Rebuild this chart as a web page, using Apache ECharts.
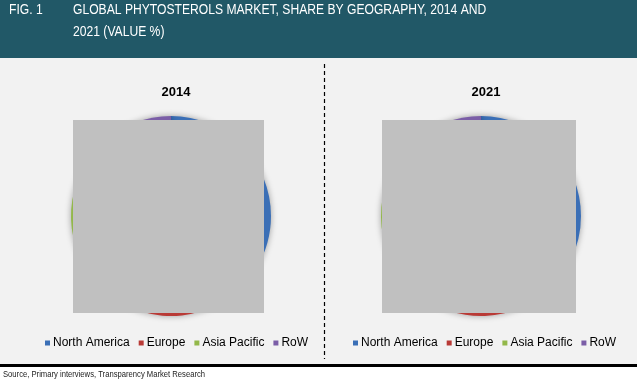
<!DOCTYPE html>
<html>
<head>
<meta charset="utf-8">
<script src="https://cdn.jsdelivr.net/npm/echarts@6/dist/echarts.min.js"></script>
<style>html,body{margin:0;padding:0;background:#fff;}#c{width:637px;height:390px;}</style>
</head>
<body>
<div id="c"></div>
<script>
const categories = ['North America', 'Europe', 'Asia Pacific', 'RoW'];
const years = ['2014', '2021'];
const values2014 = [42, 28, 24, 6];
const values2021 = [40, 27, 27, 6];
const colors = ['#3B6FB6', '#B93A36', '#93B84A', '#7B5EA7'];

const sans = "'Liberation Sans', Arial, sans-serif";

function pieSeries(vals, cx) {
  return {
    type: 'pie',
    center: [cx, 216],
    radius: 100,
    startAngle: 90,
    clockwise: true,
    silent: true,
    label: { show: false },
    labelLine: { show: false },
    itemStyle: { shadowBlur: 6, shadowColor: 'rgba(0,0,0,0.35)', borderWidth: 0 },
    data: categories.map((n, i) => ({ name: n, value: vals[i] }))
  };
}

const chart = echarts.init(document.getElementById('c'), null, { renderer: 'canvas' });
const legendBase = {
  data: categories,
  orient: 'horizontal',
  icon: 'rect',
  itemWidth: 5,
  itemHeight: 5,
  itemGap: 9,
  top: 332,
  selectedMode: false,
  textStyle: { fontFamily: sans, fontSize: 12, color: '#000', padding: [0, 0, 0, -2] }
};
chart.setOption({
  animation: false,
  backgroundColor: '#fff',
  color: colors,
  title: [
    { text: years[0], left: 171, top: 81, textAlign: 'center', textStyle: { fontFamily: sans, fontSize: 13, fontWeight: 'bold', color: '#000' } },
    { text: years[1], left: 481, top: 81, textAlign: 'center', textStyle: { fontFamily: sans, fontSize: 13, fontWeight: 'bold', color: '#000' } }
  ],
  legend: [
    Object.assign({}, legendBase, { left: 40 }),
    Object.assign({}, legendBase, { left: 348 })
  ],
  graphic: [
    { type: 'rect', z: -10, shape: { x: 0, y: 58, width: 637, height: 307 }, style: { fill: '#f2f2f2' } },
    { type: 'rect', z: -10, shape: { x: 0, y: 0, width: 637, height: 58 }, style: { fill: '#215867' } },
    { type: 'text', z: 10, x: 9, y: 3, scaleX: 0.866, style: { text: 'FIG. 1', fill: '#fff', font: '14px ' + sans } },
    { type: 'text', z: 10, x: 73, y: -1, scaleX: 0.866, style: { text: 'GLOBAL PHYTOSTEROLS MARKET, SHARE BY GEOGRAPHY, 2014 AND\n2021 (VALUE %)', fill: '#fff', font: '14px ' + sans, lineHeight: 22 } },
    { type: 'line', z: 10, shape: { x1: 324.5, y1: 64, x2: 324.5, y2: 359 }, style: { stroke: '#000', lineWidth: 1.2, lineDash: [4, 3] } },
    { type: 'rect', z: 10, shape: { x: 0, y: 364, width: 637, height: 3 }, style: { fill: '#000' } },
    { type: 'text', z: 10, x: 3, y: 370, scaleX: 0.85, style: { text: 'Source, Primary interviews, Transparency Market Research', fill: '#222', font: '9px ' + sans } },
    { type: 'rect', z: 100, shape: { x: 73, y: 120, width: 191, height: 193 }, style: { fill: '#c0c0c0' } },
    { type: 'rect', z: 100, shape: { x: 382, y: 120, width: 194, height: 193 }, style: { fill: '#c0c0c0' } }
  ],
  series: [pieSeries(values2014, 171), pieSeries(values2021, 481)]
});
</script>
</body>
</html>
